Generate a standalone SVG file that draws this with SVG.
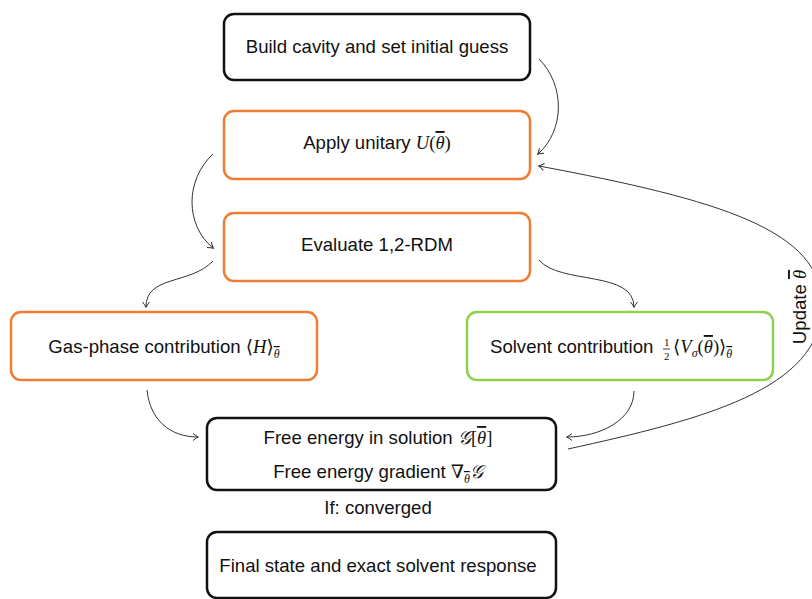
<svg xmlns="http://www.w3.org/2000/svg" width="812" height="599" viewBox="0 0 812 599">
<style>
.box{fill:#fff;stroke-width:2.5}
.k{stroke:#111}
.o{stroke:#ee7d35}
.g{stroke:#92d050}
.t{font-family:"Liberation Sans","DejaVu Sans",sans-serif;font-size:18.6px;fill:#111}
.m{font-family:"Liberation Serif","DejaVu Serif",serif;font-style:italic}
.r{font-family:"Liberation Serif","DejaVu Serif",serif;font-style:normal}
.b{text-decoration:overline}
.c{fill:none;stroke:#333;stroke-width:1}
</style>
<defs>
<marker id="a" markerWidth="10" markerHeight="10" refX="7" refY="5" orient="auto" markerUnits="userSpaceOnUse">
<path d="M2,1.5 Q5,4 7.5,5 Q5,6 2,8.5" fill="none" stroke="#333" stroke-width="1"/>
</marker>
</defs>
<rect width="812" height="599" fill="#fff"/>
<g id="connectors">
<path class="c" marker-end="url(#a)" d="M539,59 C565,85 565,130 538,154"/>
<path class="c" marker-end="url(#a)" d="M568,449 C700,420 822,390 822,305 C822,230 720,200 539,166"/>
<path class="c" marker-end="url(#a)" d="M213,154 C185,180 185,225 213,248"/>
<path class="c" marker-end="url(#a)" d="M213,261 C190,285 146,275 146,307"/>
<path class="c" marker-end="url(#a)" d="M539,260 C560,285 634,270 634,307"/>
<path class="c" marker-end="url(#a)" d="M147,390 C150,420 170,437 198,437"/>
<path class="c" marker-end="url(#a)" d="M634,391 C634,420 600,437 567,437"/>
<text class="t" transform="translate(806,307) rotate(-90)" text-anchor="middle">Update <tspan class="m b">θ</tspan></text>
</g>
<g id="build">
<rect class="box k" x="224" y="14" width="306" height="66" rx="10"/>
<text class="t" x="377" y="53" text-anchor="middle">Build cavity and set initial guess</text>
</g>
<g id="apply">
<rect class="box o" x="224" y="111" width="306" height="68" rx="10"/>
<text class="t" x="377" y="149" text-anchor="middle">Apply unitary <tspan class="m">U</tspan><tspan class="r">(</tspan><tspan class="m b">θ</tspan><tspan class="r">)</tspan></text>
</g>
<g id="evaluate">
<rect class="box o" x="224" y="213" width="306" height="68" rx="10"/>
<text class="t" x="377" y="251" text-anchor="middle">Evaluate 1,2-RDM</text>
</g>
<g id="gas">
<rect class="box o" x="11" y="312" width="306" height="68" rx="10"/>
<text class="t" x="164" y="353" text-anchor="middle">Gas-phase contribution <tspan class="r">⟨</tspan><tspan class="m">H</tspan><tspan class="r">⟩</tspan><tspan class="m b" style="font-size:12px" dy="5">θ</tspan></text>
</g>
<g id="solvent">
<rect class="box g" x="467" y="312" width="306" height="68" rx="10"/>
<text class="t" x="490" y="353">Solvent contribution</text>
<text class="t r" x="664" y="346" style="font-size:11px">1</text>
<text class="t r" x="664" y="360" style="font-size:11px">2</text>
<line x1="663" y1="349" x2="670" y2="349" stroke="#111" stroke-width="0.8"/>
<text class="t" x="673" y="353"><tspan class="r">⟨</tspan><tspan class="m">V</tspan><tspan class="m" style="font-size:12px" dy="4">σ</tspan><tspan class="r" dy="-4">(</tspan><tspan class="m b">θ</tspan><tspan class="r">)⟩</tspan><tspan class="m b" style="font-size:12px" dy="5">θ</tspan></text>
</g>
<g id="free">
<rect class="box k" x="207" y="418" width="349" height="72" rx="10"/>
<text class="t" x="378" y="444" text-anchor="middle">Free energy in solution <tspan class="m">𝒢</tspan><tspan class="r">[</tspan><tspan class="m b">θ</tspan><tspan class="r">]</tspan></text>
<text class="t" x="378" y="478" text-anchor="middle">Free energy gradient <tspan class="r">∇</tspan><tspan class="m b" style="font-size:12px" dy="5">θ</tspan><tspan class="m" dy="-5">𝒢</tspan></text>
</g>
<text class="t" x="378" y="514" text-anchor="middle">If: converged</text>
<g id="final">
<rect class="box k" x="207" y="532" width="349" height="66" rx="10"/>
<text class="t" x="378" y="572" text-anchor="middle">Final state and exact solvent response</text>
</g>
</svg>
